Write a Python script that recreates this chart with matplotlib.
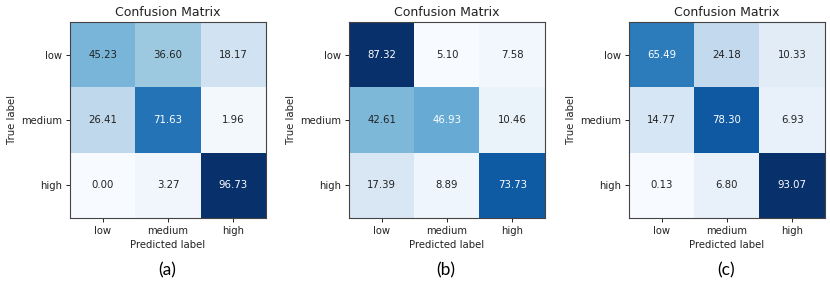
import matplotlib
matplotlib.use("Agg")
import matplotlib.pyplot as plt
import numpy as np

classes = ["low", "medium", "high"]
cm_a = [[45.23, 36.60, 18.17],
        [26.41, 71.63, 1.96],
        [0.00, 3.27, 96.73]]
cm_b = [[87.32, 5.10, 7.58],
        [42.61, 46.93, 10.46],
        [17.39, 8.89, 73.73]]
cm_c = [[65.49, 24.18, 10.33],
        [14.77, 78.30, 6.93],
        [0.13, 6.80, 93.07]]
captions = ["(a)", "(b)", "(c)"]
matrices = [cm_a, cm_b, cm_c]

fig = plt.figure(figsize=(8.30, 2.94), dpi=100)
lefts = [70, 349, 629]
for m, cap, lx in zip(matrices, captions, lefts):
    ax = fig.add_axes([lx / 830, 76 / 294, 196 / 830, 196 / 294])
    arr = np.array(m)
    ax.imshow(arr, interpolation="nearest", cmap="Blues", aspect="auto")
    ax.set_title("Confusion Matrix", fontsize=9, pad=4, color="#222222")
    ticks = np.arange(len(classes))
    ax.set_xticks(ticks)
    ax.set_xticklabels(classes, fontsize=7.2, color="#222222")
    ax.set_yticks(ticks)
    ax.set_yticklabels(classes, fontsize=7.2, color="#222222")
    ax.tick_params(length=3, width=0.6, pad=2.5)
    thresh = arr.max() / 2.0
    for i in range(arr.shape[0]):
        for j in range(arr.shape[1]):
            ax.text(j, i, f"{arr[i, j]:.2f}", ha="center", va="center",
                    fontsize=7.3,
                    color="white" if arr[i, j] > thresh else "#222222")
    ax.set_xlabel("Predicted label", fontsize=7.3, labelpad=3, color="#222222")
    ax.set_ylabel("True label", fontsize=7.3, labelpad=3, color="#222222")
    for s in ax.spines.values():
        s.set_linewidth(0.8)
        s.set_color("#444444")
    fig.text((lx + 97) / 830, 1 - 270 / 294, cap, ha="center", va="center",
             fontsize=12.5, family=["Lato", "DejaVu Sans"])

fig.savefig("out.png", dpi=100)
